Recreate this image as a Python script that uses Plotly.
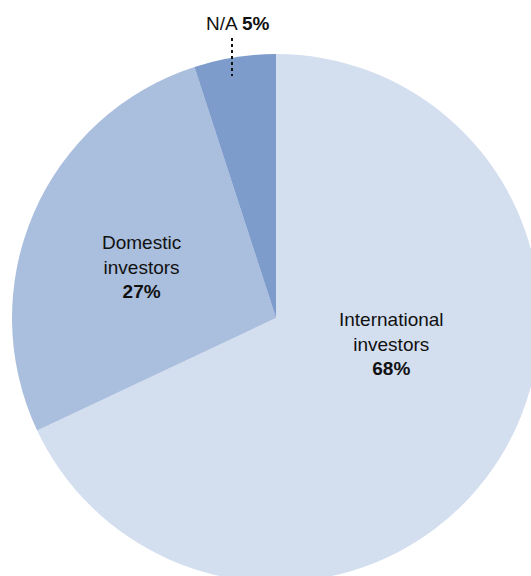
import plotly.graph_objects as go

# Investor split
categories = ["International investors", "Domestic investors", "N/A"]
shares = [68, 27, 5]
colors = ["#D3DEEF", "#AABEDE", "#7D9CCC"]

# Figure canvas (pie extends slightly past the visible page on right/bottom)
W, H = 540, 582
PIE_LEFT, PIE_TOP, PIE_SIZE = 12, 54, 528


def px_x(x):
    return x / W


def px_y(y):
    return 1 - y / H


fig = go.Figure(
    go.Pie(
        labels=categories,
        values=shares,
        sort=False,
        direction="clockwise",
        rotation=0,
        marker=dict(colors=colors, line=dict(width=0)),
        textinfo="none",
        hoverinfo="label+percent",
        showlegend=False,
        domain=dict(
            x=[px_x(PIE_LEFT), px_x(PIE_LEFT + PIE_SIZE)],
            y=[px_y(PIE_TOP + PIE_SIZE), px_y(PIE_TOP)],
        ),
    )
)

font = dict(family="Liberation Sans, Arial, sans-serif", size=19, color="#111111")


def two_line(name):
    words = name.split(" ")
    return "<br>".join(words)


# In-slice labels
label_pos = {
    "International investors": (391, 344),
    "Domestic investors": (141, 267),
}
for name, value in zip(categories, shares):
    if name in label_pos:
        x, y = label_pos[name]
        fig.add_annotation(
            x=px_x(x), y=px_y(y), xref="paper", yref="paper",
            text=f"{two_line(name)}<br><b>{value}%</b>",
            showarrow=False, align="center",
            xanchor="center", yanchor="middle", font=font,
        )

# Small slice label above the pie with a dotted leader
na_value = shares[categories.index("N/A")]
fig.add_annotation(
    x=px_x(237), y=px_y(24), xref="paper", yref="paper",
    text=f"N/A <b>{na_value}%</b>",
    showarrow=False, xanchor="center", yanchor="middle", font=font,
)
fig.add_shape(
    type="line", xref="paper", yref="paper",
    x0=px_x(232), x1=px_x(232), y0=px_y(38), y1=px_y(76),
    line=dict(color="#111111", width=2, dash="dot"),
)

fig.update_layout(
    width=W, height=H, autosize=False,
    margin=dict(l=0, r=0, t=0, b=0),
    paper_bgcolor="white", plot_bgcolor="white",
)

fig.write_html(
    "out.html",
    config={"displayModeBar": False},
    post_script="document.documentElement.style.overflow='hidden';document.body.style.overflow='hidden';document.body.style.margin='0';",
)
